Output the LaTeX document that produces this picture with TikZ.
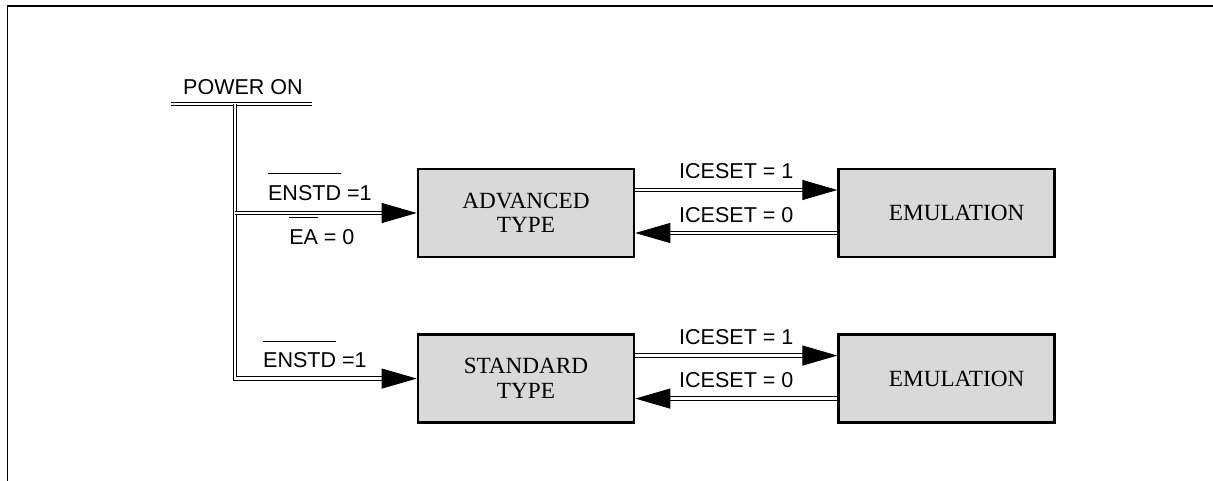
\documentclass[tikz,border=0pt]{standalone}
\usepackage{fontspec}
\usepackage{tikz}
\usepackage{amsmath}
\setmainfont{Liberation Serif}
\newfontfamily\sigfont{Liberation Sans}
\usetikzlibrary{arrows.meta, positioning, calc}
\tikzset{
  modebox/.style={rectangle,draw=black,line width=1.8pt,fill=black!15,minimum width=5.4cm,minimum height=2.2cm,align=center,font=\fontsize{16.5}{17.5}\selectfont},
  bus/.style={draw=black,double=white,line width=0.65pt,double distance=2pt},
  busarrow/.style={bus,-{Triangle[length=0.875cm,width=0.5cm]}},
  siglabel/.style={font=\sigfont\fontsize{15.3}{18}\selectfont,inner sep=0pt,anchor=base},
}
\newcommand{\barsig}[1]{$\overline{\mbox{\vrule width0pt height1.1em #1}}$}

\begin{document}
\begin{tikzpicture}[x=0.025cm,y=-0.025cm]
	    \useasboundingbox (0,0) rectangle (1213,481);
	    % frame
	    \draw[line width=1.4pt] (7,6) -- (1213,6);
	    \draw[line width=0.7pt] (7,6) -- (7,481);
	    % modes
	    \node[modebox] (adv) at (526,213) {ADVANCED\\TYPE};
	    \node[modebox,right=5.05cm of adv] (emuA) {\hspace*{0.5cm}EMULATION};
	    \node[modebox,below=1.875cm of adv] (std) {STANDARD\\TYPE};
	    \node[modebox,right=5.05cm of std] (emuB) {\hspace*{0.5cm}EMULATION};
	    % power on bus
	    \node[siglabel] (pwr) at (243,94) {POWER ON};
	    \coordinate (pwrl) at (171,104);
	    \coordinate (pwrr) at (312,104);
	    \coordinate (top) at (235,104);
	    \draw[bus] (pwrl) -- (pwrr);
	    \draw[busarrow] (top) |- (std.west) node[siglabel,pos=0.72,yshift=0.275cm] {\barsig{ENSTD} =1};
	    \draw[busarrow] (top |- adv.west) -- (adv.west)
	        node[siglabel,midway,xshift=-0.15cm,yshift=0.325cm] {\barsig{ENSTD} =1}
	        node[siglabel,midway,xshift=-0.1cm,yshift=-0.775cm] {\barsig{EA} = 0};
	    % ICESET transitions
	    \draw[busarrow] ([yshift=0.575cm]adv.east) -- ([yshift=0.575cm]emuA.west) node[siglabel,midway,yshift=0.275cm] {ICESET = 1};
	    \draw[busarrow] ([yshift=-0.5cm]emuA.west) -- ([yshift=-0.5cm]adv.east) node[siglabel,midway,yshift=0.275cm] {ICESET = 0};
	    \draw[busarrow] ([yshift=0.575cm]std.east) -- ([yshift=0.575cm]emuB.west) node[siglabel,midway,yshift=0.275cm] {ICESET = 1};
	    \draw[busarrow] ([yshift=-0.5cm]emuB.west) -- ([yshift=-0.5cm]std.east) node[siglabel,midway,yshift=0.275cm] {ICESET = 0};
	\end{tikzpicture}
\end{document}
